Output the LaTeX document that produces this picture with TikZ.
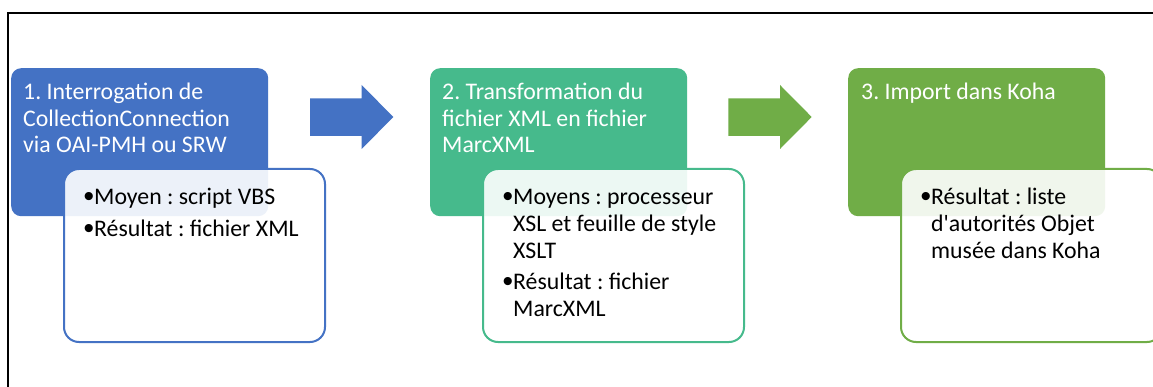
\documentclass[tikz,border=0pt]{standalone}
\usepackage{fontspec}
\setmainfont{Carlito}
\newfontfamily\bulletfont{Liberation Sans}
\frenchspacing
\definecolor{cblue}{HTML}{4472C4}
\definecolor{cteal}{HTML}{46BA8C}
\definecolor{cgreen}{HTML}{70AD47}
\newcommand\bitem[1]{\par\hangindent=11pt\hangafter=1\noindent\makebox[11pt][r]{\raisebox{-2pt}{\bulletfont\fontsize{30}{30}\selectfont\textbullet}}#1\par}
\begin{document}
\begin{tikzpicture}[x=1pt,y=-1pt,
  headbox/.style={rectangle, rounded corners=10pt, draw=none, anchor=north west,
    minimum width=257pt, minimum height=148pt, inner sep=0pt},
  detailbox/.style={rectangle, rounded corners=15pt, line width=2pt, fill=white, fill opacity=0.9,
    anchor=north west, minimum width=261pt, minimum height=173pt, inner sep=0pt},
  headtext/.style={anchor=base west, inner sep=0pt, text=white, font=\fontsize{23.8}{26.6}\selectfont\frenchspacing},
  bodytext/.style={anchor=base west, inner sep=0pt, text=black, font=\fontsize{23.8}{26.6}\selectfont\frenchspacing}
]
\useasboundingbox (0,0) rectangle (1153,387);
\clip (0,0) rectangle (1153,387);
\fill[white] (0,0) rectangle (1153,387);
% frame
\draw[line width=1.8pt, black] (8.3,500) -- (8.3,12.7) -- (1300,12.7);

% step 1
\node[headbox, fill=cblue] (h1) at (11,68) {};
\node[headtext] (t1) at (23,99.5) {\parbox[t]{250pt}{\raggedright 1. Interrogation de\newline CollectionConnection\newline via OAI-PMH ou SRW}};
\node[detailbox, draw=cblue] (d1) at (63,168) {};
\node[bodytext] (b1) at (83,205) {\parbox[t]{235pt}{\setlength\parskip{5.2pt}\raggedright
  \bitem{Moyen : script VBS}\bitem{Résultat : fichier XML}}};

% arrow 1
\fill[cblue] (310,98.3) -- (361.7,98.3) -- (361.7,85) -- (393.3,117) -- (361.7,149) -- (361.7,136) -- (310,136) -- cycle;

% step 2
\node[headbox, fill=cteal] (h2) at (430,68) {};
\node[headtext] (t2) at (442,99.5) {\parbox[t]{250pt}{\raggedright 2. Transformation du\newline fichier XML en fichier\newline MarcXML}};
\node[detailbox, draw=cteal] (d2) at (482,168) {};
\node[bodytext] (b2) at (502,205) {\parbox[t]{240pt}{\setlength\parskip{5.2pt}\raggedright
  \bitem{Moyens : processeur\newline XSL et feuille de style\newline XSLT}\bitem{Résultat : fichier\newline MarcXML}}};

% arrow 2
\fill[cgreen] (728.3,98.3) -- (780,98.3) -- (780,85) -- (811.7,117) -- (780,149) -- (780,136) -- (728.3,136) -- cycle;

% step 3
\node[headbox, fill=cgreen] (h3) at (848,68) {};
\node[headtext] (t3) at (861,99.5) {\parbox[t]{240pt}{\raggedright 3. Import dans Koha}};
\node[detailbox, draw=cgreen] (d3) at (900,168) {};
\node[bodytext] (b3) at (920,205) {\parbox[t]{225pt}{\setlength\parskip{5.2pt}\raggedright
  \bitem{Résultat : liste\newline d\textquotesingle autorités Objet\newline musée dans Koha}}};
\end{tikzpicture}
\end{document}
